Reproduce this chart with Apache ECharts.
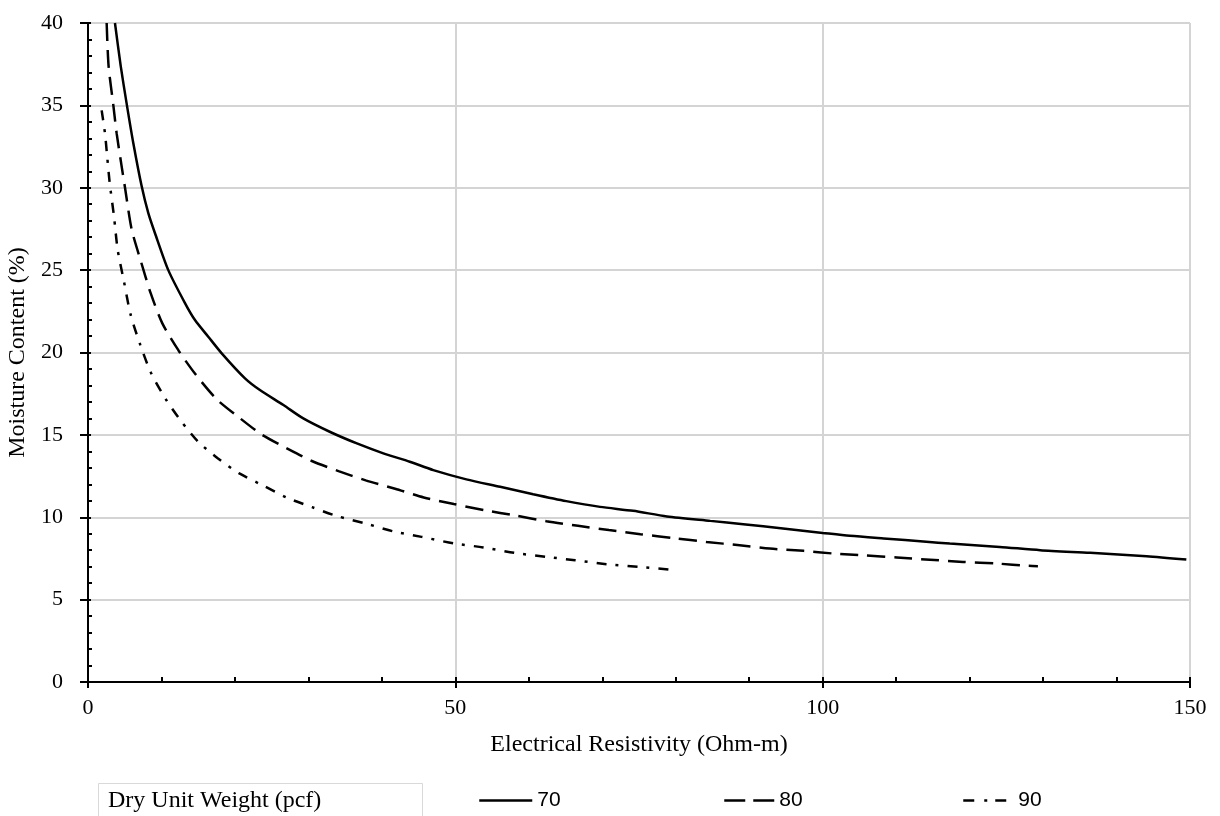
<!DOCTYPE html>
<html>
<head>
<meta charset="utf-8">
<script src="https://cdn.jsdelivr.net/npm/echarts@6/dist/echarts.min.js"></script>
<style>
html,body{margin:0;padding:0;background:#fff;}
#chart{width:1220px;height:816px;}
</style>
</head>
<body>
<div id="chart"></div>
<script>
// Data: [resistivity (Ohm-m), moisture (%)]
const seriesNames = ['70', '80', '90'];
const legendTitle = 'Dry Unit Weight (pcf)';
const xAxisTitle = 'Electrical Resistivity (Ohm-m)';
const yAxisTitle = 'Moisture Content (%)';

const dry70 = [
  [3.67,40],[4.45,37.4],[5.3,35],[6.17,32.7],[7.3,30.1],[8.21,28.46],[9.12,27.24],[10.93,25.0],
  [13.2,23.0],[14.56,21.97],[16.37,20.96],[18.2,19.95],[21.37,18.43],[23.4,17.72],[26.6,16.81],
  [29.3,16.0],[32.9,15.19],[36.6,14.48],[40.2,13.88],[43.8,13.37],[47,12.86],[51.5,12.3],
  [56.1,11.85],[60.6,11.4],[65.1,10.98],[69.7,10.63],[74.2,10.39],[78.8,10.05],[84.7,9.78],
  [89.2,9.58],[94.6,9.32],[100,9.05],[103.7,8.87],[108.3,8.71],[114.1,8.52],[117.3,8.4],
  [124.1,8.2],[129.6,8.0],[136.4,7.84],[144.1,7.64],[149.5,7.43]
];
const dry80 = [
  [2.54,40],[2.8,37.4],[3.45,35],[3.9,33.3],[4.58,31.3],[5.04,30],[5.94,27.48],[7.21,25.52],
  [8.53,23.6],[10.12,21.77],[12.34,20.11],[14.61,18.69],[17.5,17.17],[20.55,16.06],[23.7,15.0],
  [27.0,14.2],[30.4,13.43],[34.1,12.8],[37.8,12.24],[41.8,11.73],[45.7,11.2],[49.8,10.8],
  [54.0,10.43],[58.2,10.1],[62.4,9.76],[66.7,9.48],[70.9,9.22],[75.2,8.97],[79.8,8.73],
  [84.2,8.5],[88.7,8.3],[92.8,8.1],[97.4,7.96],[101.4,7.8],[105.8,7.68],[110.1,7.56],
  [114.6,7.42],[119.1,7.29],[123.7,7.19],[128,7.05],[129.3,7.03]
];
const dry90 = [
  [1.86,34.7],[2.31,33.3],[2.63,31.8],[2.95,30.3],[3.54,28.25],[4.04,26.23],[4.9,24.3],
  [5.81,22.28],[7.12,20.46],[8.57,18.77],[10.6,17.16],[12.6,15.88],[15.0,14.58],[17.7,13.57],
  [20.6,12.66],[23.9,11.91],[27.0,11.2],[30.5,10.61],[33.9,10.07],[37.8,9.62],[41.5,9.15],
  [45.4,8.81],[49.8,8.41],[53.8,8.17],[58.0,7.84],[62.3,7.6],[66.3,7.39],[70.6,7.15],
  [74.9,6.99],[79.1,6.83],[79.9,6.8]
];

const xMin = 0, xMax = 150, xStep = 50;
const yMin = 0, yMax = 40, yStep = 5;

const serif = 'Liberation Serif';
const sans = 'Liberation Sans';

const chart = echarts.init(document.getElementById('chart'), null, {renderer: 'canvas'});

function lineSeries(name, data, type) {
  return {
    name: name,
    type: 'line',
    data: data,
    xAxisIndex: 0,
    yAxisIndex: 0,
    showSymbol: false,
    symbol: 'none',
    smooth: 0.25,
    clip: true,
    animation: false,
    lineStyle: {color: '#000', width: 2.5, type: type, cap: 'butt'},
    itemStyle: {color: '#000'}
  };
}

function legendFor(name, left, width, dash) {
  return {
    data: [name],
    left: left,
    top: 790,
    padding: 0,
    itemWidth: width,
    itemHeight: 16,
    selectedMode: false,
    itemStyle: {color: 'rgba(0,0,0,0)', borderWidth: 0, opacity: 0},
    lineStyle: {type: dash, width: 2.5, color: '#000'},
    textStyle: {fontFamily: sans, fontSize: 21, color: '#000'}
  };
}

const option = {
  backgroundColor: '#fff',
  animation: false,
  grid: {left: 88, right: 30, top: 23, bottom: 134, containLabel: false, outerBoundsMode: 'none'},
  xAxis: [
    {
      type: 'value', min: xMin, max: xMax, interval: xStep, position: 'bottom',
      name: xAxisTitle, nameLocation: 'middle', nameGap: 51,
      nameTextStyle: {fontFamily: serif, fontSize: 24, color: '#000'},
      axisLine: {show: true, onZero: false, lineStyle: {color: '#000', width: 2}},
      axisTick: {show: true, inside: true, length: 5, lineStyle: {color: '#000', width: 2}},
      minorTick: {show: true, splitNumber: 5, length: 5, lineStyle: {color: '#000', width: 2}},
      splitLine: {show: true, lineStyle: {color: '#d4d4d4', width: 2}},
      axisLabel: {margin: 15, fontFamily: serif, fontSize: 22, color: '#000'}
    },
    {
      type: 'value', min: xMin, max: xMax, interval: xStep, position: 'bottom',
      axisLine: {show: false},
      axisTick: {show: true, inside: false, length: 6, lineStyle: {color: '#000', width: 2}},
      splitLine: {show: false},
      axisLabel: {show: false}
    }
  ],
  yAxis: [
    {
      type: 'value', min: yMin, max: yMax, interval: yStep, position: 'left',
      name: yAxisTitle, nameLocation: 'middle', nameGap: 55,
      nameTextStyle: {fontFamily: serif, fontSize: 24, color: '#000'},
      axisLine: {show: true, onZero: false, lineStyle: {color: '#000', width: 2}},
      axisTick: {show: true, inside: true, length: 3, lineStyle: {color: '#000', width: 2}},
      minorTick: {show: true, splitNumber: 5, length: 4, lineStyle: {color: '#000', width: 2}},
      splitLine: {show: true, lineStyle: {color: '#d4d4d4', width: 2}},
      axisLabel: {margin: 25, fontFamily: serif, fontSize: 22, color: '#000'}
    },
    {
      type: 'value', min: yMin, max: yMax, interval: yStep, position: 'left',
      axisLine: {show: false},
      axisTick: {show: true, inside: false, length: 8, lineStyle: {color: '#000', width: 2}},
      splitLine: {show: false},
      axisLabel: {show: false}
    }
  ],
  legend: [
    legendFor(seriesNames[0], 478, 53, 'solid'),
    legendFor(seriesNames[1], 723, 50, [21, 8]),
    legendFor(seriesNames[2], 962, 50, [11, 10, 3, 8])
  ],
  graphic: [
    {
      type: 'rect', left: 98, top: 783, silent: true,
      shape: {width: 324, height: 40},
      style: {fill: '#fff', stroke: '#d9d9d9', lineWidth: 1}
    },
    {
      type: 'text', left: 108, top: 789, silent: true,
      style: {text: legendTitle, font: '24px "Liberation Serif"', fill: '#000'}
    }
  ],
  series: [
    lineSeries(seriesNames[0], dry70, 'solid'),
    lineSeries(seriesNames[1], dry80, [18, 9]),
    lineSeries(seriesNames[2], dry90, [10, 9, 3, 9])
  ]
};

chart.setOption(option);
</script>
</body>
</html>
